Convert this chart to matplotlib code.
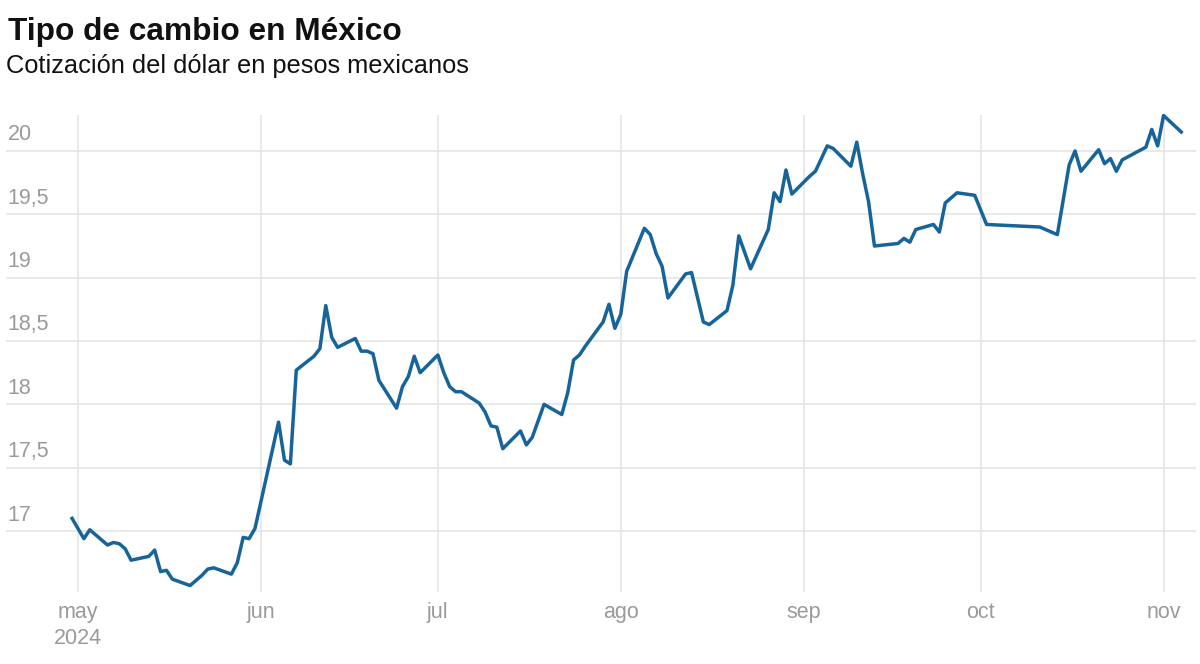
import matplotlib.pyplot as plt
import matplotlib.dates as mdates
import pandas as pd

# cotizacion USD/MXN
fechas = [
    "2024-04-30", "2024-05-02", "2024-05-03", "2024-05-06", "2024-05-07", "2024-05-08",
    "2024-05-09", "2024-05-10", "2024-05-13", "2024-05-14", "2024-05-15", "2024-05-16",
    "2024-05-17", "2024-05-20", "2024-05-21", "2024-05-22", "2024-05-23", "2024-05-24",
    "2024-05-27", "2024-05-28", "2024-05-29", "2024-05-30", "2024-05-31",
    "2024-06-04", "2024-06-05", "2024-06-06", "2024-06-07", "2024-06-10", "2024-06-11",
    "2024-06-12", "2024-06-13", "2024-06-14", "2024-06-17", "2024-06-18", "2024-06-19",
    "2024-06-20", "2024-06-21", "2024-06-24", "2024-06-25", "2024-06-26", "2024-06-27",
    "2024-06-28",
    "2024-07-01", "2024-07-02", "2024-07-03", "2024-07-04", "2024-07-05", "2024-07-08",
    "2024-07-09", "2024-07-10", "2024-07-11", "2024-07-12", "2024-07-15", "2024-07-16",
    "2024-07-17", "2024-07-19", "2024-07-22", "2024-07-23", "2024-07-24", "2024-07-25",
    "2024-07-26", "2024-07-29", "2024-07-30", "2024-07-31",
    "2024-08-01", "2024-08-02", "2024-08-05", "2024-08-06", "2024-08-07", "2024-08-08",
    "2024-08-09", "2024-08-12", "2024-08-13", "2024-08-15", "2024-08-16", "2024-08-19",
    "2024-08-20", "2024-08-21", "2024-08-23", "2024-08-26", "2024-08-27", "2024-08-28",
    "2024-08-29", "2024-08-30",
    "2024-09-02", "2024-09-03", "2024-09-05", "2024-09-06", "2024-09-09", "2024-09-10",
    "2024-09-11", "2024-09-12", "2024-09-13", "2024-09-17", "2024-09-18", "2024-09-19",
    "2024-09-20", "2024-09-23", "2024-09-24", "2024-09-25", "2024-09-27", "2024-09-30",
    "2024-10-02", "2024-10-11", "2024-10-14", "2024-10-16", "2024-10-17", "2024-10-18",
    "2024-10-21", "2024-10-22", "2024-10-23", "2024-10-24", "2024-10-25", "2024-10-29",
    "2024-10-30", "2024-10-31", "2024-11-01", "2024-11-04",
]
valores = [
    17.10, 16.94, 17.01, 16.89, 16.91, 16.90,
    16.86, 16.77, 16.80, 16.85, 16.68, 16.69,
    16.62, 16.57, 16.61, 16.65, 16.70, 16.71,
    16.66, 16.75, 16.95, 16.94, 17.02,
    17.86, 17.56, 17.53, 18.27, 18.38, 18.44,
    18.78, 18.53, 18.45, 18.52, 18.42, 18.42,
    18.40, 18.19, 17.97, 18.14, 18.22, 18.38,
    18.25,
    18.39, 18.25, 18.14, 18.10, 18.10, 18.01,
    17.94, 17.83, 17.82, 17.65, 17.79, 17.68,
    17.74, 18.00, 17.92, 18.09, 18.35, 18.39,
    18.46, 18.65, 18.79, 18.60,
    18.71, 19.05, 19.39, 19.34, 19.19, 19.09,
    18.84, 19.03, 19.04, 18.65, 18.63, 18.74,
    18.94, 19.33, 19.07, 19.38, 19.67, 19.60,
    19.85, 19.66,
    19.80, 19.84, 20.04, 20.02, 19.88, 20.07,
    19.82, 19.60, 19.25, 19.27, 19.31, 19.28,
    19.38, 19.42, 19.36, 19.59, 19.67, 19.65,
    19.42, 19.40, 19.34, 19.89, 20.00, 19.84,
    20.01, 19.90, 19.94, 19.84, 19.93, 20.03,
    20.17, 20.04, 20.28, 20.15,
]

meses = ["2024-05-01", "2024-06-01", "2024-07-01", "2024-08-01",
         "2024-09-01", "2024-10-01", "2024-11-01"]
meses_txt = ["may\n2024", "jun", "jul", "ago", "sep", "oct", "nov"]
y_ticks = [17, 17.5, 18, 18.5, 19, 19.5, 20]
y_txt = ["17", "17,5", "18", "18,5", "19", "19,5", "20"]

plt.rcParams['font.family'] = ['Liberation Sans', 'DejaVu Sans']
gris = "#9a9a9a"

fig = plt.figure(figsize=(12, 6.64), dpi=100)
ax = fig.add_axes([6 / 1200, 1 - 592 / 664, 1190 / 1200, 477 / 664])

x = pd.to_datetime(fechas)
ax.plot(x, valores, color="#17649a", lw=2.5, clip_on=False,
        solid_joinstyle="round", zorder=3)

inicio = pd.Timestamp("2024-05-01")
ax.set_xlim(inicio - pd.Timedelta(days=12.2), inicio + pd.Timedelta(days=189.5))
ax.set_ylim(16.519, 20.284)

for v in y_ticks:
    ax.axhline(v, color="#e3e3e3", lw=1.1, zorder=1)
for m in meses:
    ax.axvline(pd.Timestamp(m), color="#e3e3e3", lw=1.1, zorder=1)

for v, t in zip(y_ticks, y_txt):
    ax.annotate(t, xy=(0, v), xycoords=ax.get_yaxis_transform(),
                xytext=(1, 4), textcoords="offset points",
                ha="left", va="bottom", fontsize=15.5, color=gris)

ax.set_xticks(pd.to_datetime(meses))
ax.set_xticklabels(meses_txt, fontsize=15.5, color=gris, linespacing=1.3)
ax.tick_params(axis="x", length=0, pad=7)
ax.set_yticks([])
for s in ax.spines.values():
    s.set_visible(False)

fig.text(8 / 1200, 1 - 40 / 664, "Tipo de cambio en México", fontsize=22.8,
         fontweight="bold", color="#111111", va="baseline", ha="left")
fig.text(6 / 1200, 1 - 73 / 664, "Cotización del dólar en pesos mexicanos",
         fontsize=18.3, color="#111111", va="baseline", ha="left")

fig.savefig("out.png", dpi=100)
